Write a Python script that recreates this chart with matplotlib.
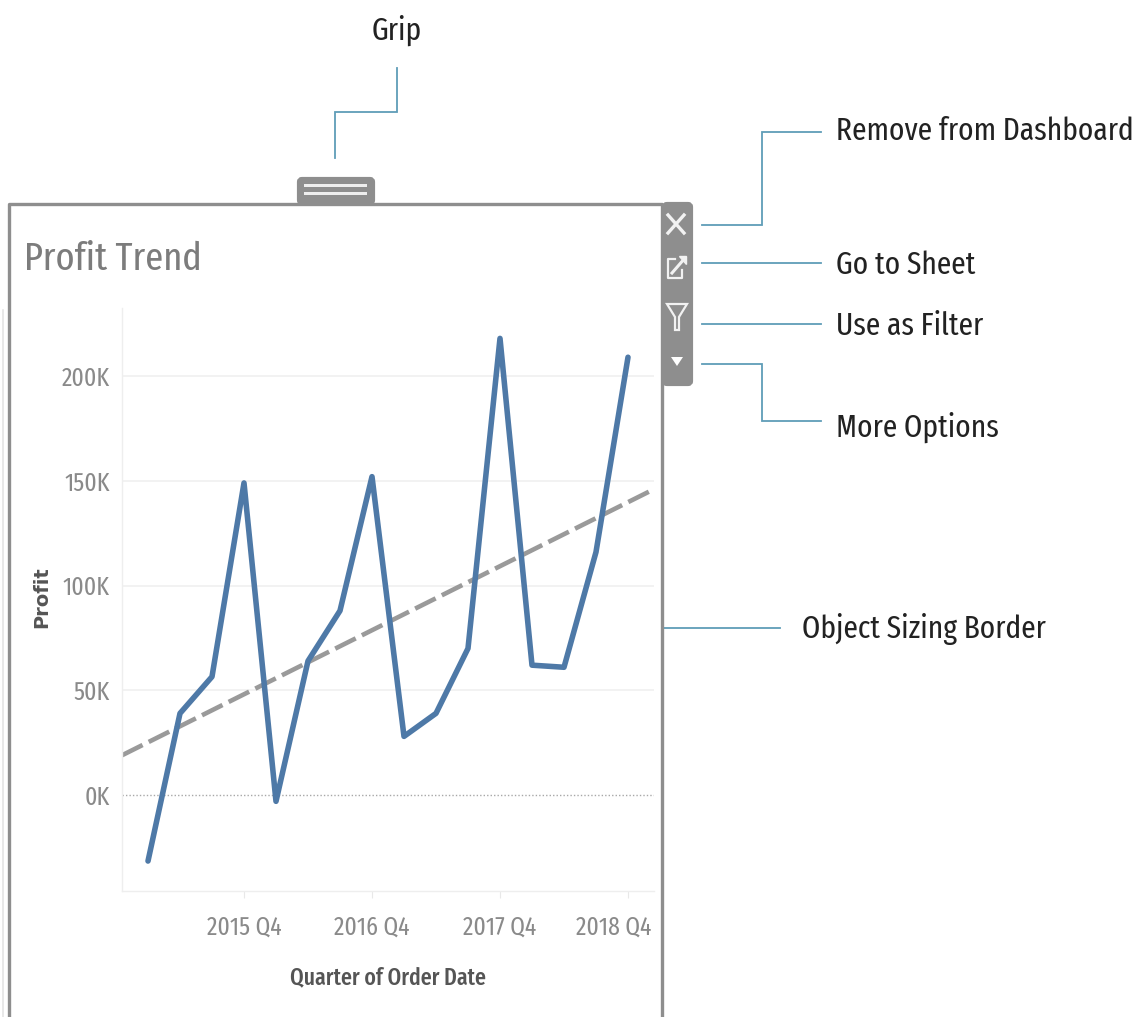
#!/usr/bin/env python3
"""Annotated dashboard object: profit trend line with callouts."""

import matplotlib
matplotlib.use("Agg")
import matplotlib.pyplot as plt
from matplotlib.patches import FancyBboxPatch, Polygon, Rectangle
from matplotlib.lines import Line2D
from matplotlib.transforms import ScaledTranslation
import numpy as np

W, H = 1139, 1017

QUARTERS = [f"{y} Q{q}" for y in (2015, 2016, 2017, 2018) for q in (1, 2, 3, 4)]
PROFIT = [-31.5, 39, 56.5, 149, -3, 64, 88, 152, 28, 39, 70, 218, 62, 61, 116, 209]
TREND_X = [-0.81, 15.81]
TREND_Y = [19, 146]
Y_TICKS = [0, 50, 100, 150, 200]
Y_LABELS = ["0K", "50K", "100K", "150K", "200K"]
X_TICKS = [3, 7, 11, 15]
X_LABELS = ["2015 Q4", "2016 Q4", "2017 Q4", "2018 Q4"]

CALLOUTS = [
    ("Grip", 397, 30, "center", [(335, 158), (335, 112), (397, 112), (397, 68)]),
    ("Remove from Dashboard", 836, 131, "left", [(702, 225), (762, 225), (762, 132), (821, 132)]),
    ("Go to Sheet", 836, 265, "left", [(702, 263), (821, 263)]),
    ("Use as Filter", 836, 326, "left", [(702, 324), (821, 324)]),
    ("More Options", 836, 427, "left", [(702, 364), (762, 364), (762, 421), (821, 421)]),
    ("Object Sizing Border", 802, 629, "left", [(663, 628), (780, 628)]),
]

FONT = ["Fira Sans Extra Condensed", "Lato", "DejaVu Sans"]
plt.rcParams["font.family"] = FONT

GREY = "#8e8e8e"
LEADER = "#5f9db8"
LINE = "#4e79a7"
TEXT = "#8a8a8a"

fig = plt.figure(figsize=(W / 100, H / 100), dpi=100, facecolor="white")

# overlay in pixel coordinates for the frame and the callouts
bg = fig.add_axes([0, 0, 1, 1], zorder=3)
bg.set_xlim(0, W)
bg.set_ylim(H, 0)
bg.axis("off")
bg.patch.set_alpha(0)

for label, tx, ty, ha, path in CALLOUTS:
    xs, ys = zip(*path)
    bg.plot(xs, ys, color=LEADER, lw=1.3, solid_joinstyle="miter")
    bg.text(tx, ty, label, ha=ha, va="center", fontsize=23, color="#222222")

# object border
bg.add_line(Line2D([9, 9, 662, 662], [1017, 204, 204, 1017], color=GREY, lw=2.4))
bg.add_line(Line2D([3, 3], [310, 1017], color="#e4e4e4", lw=1.2))

# grip
bg.add_patch(FancyBboxPatch((299, 179), 74, 24, boxstyle="round,pad=0,rounding_size=3",
                            fc=GREY, ec=GREY, lw=3))
bg.add_patch(Rectangle((304, 183.5), 63, 3, fc="#eeeeee", ec="none", zorder=4))
bg.add_patch(Rectangle((304, 192), 63, 3, fc="#eeeeee", ec="none", zorder=4))

# toolbar
bg.add_patch(FancyBboxPatch((664, 204), 27, 180, boxstyle="round,pad=0,rounding_size=3",
                            fc=GREY, ec=GREY, lw=3))
ICON = "#f2f2f2"
bg.plot([668, 684], [215, 233], color=ICON, lw=2.4, zorder=4)
bg.plot([668, 684], [233, 215], color=ICON, lw=2.4, zorder=4)
bg.plot([675, 668, 668, 682, 682], [259, 259, 278, 278, 270], color=ICON, lw=1.6, zorder=4)
bg.plot([672, 685], [273, 258], color=ICON, lw=2.2, zorder=4)
bg.add_patch(Polygon([[679, 256], [686, 256], [686, 264]], fc=ICON, ec=ICON, zorder=4))
bg.add_patch(Polygon([[667, 304], [687, 304], [679, 317], [679, 330], [675, 330], [675, 317]],
                     fc="none", ec=ICON, lw=1.6, zorder=4))
bg.add_patch(Polygon([[671, 357], [683, 357], [677, 366]], fc="white", ec="none", zorder=4))

bg.text(24, 259, "Profit Trend", ha="left", va="center", fontsize=28.5, color="#7c7c7c")

# chart
ax = fig.add_axes([122 / W, 1 - 891 / H, (654 - 122) / W, (891 - 308) / H], zorder=2)
ax.patch.set_alpha(0)
ax.set_xlim(-0.8125, 15.8125)
ax.set_ylim(-45.8, 232.5)
x = np.arange(len(QUARTERS))

for tick in Y_TICKS[1:]:
    ax.axhline(tick, color="#efefef", lw=1.1, zorder=1)
ax.axhline(0, color="#a8a8a8", lw=1.0, ls=(0, (1, 1.5)), zorder=1)

ax.plot(TREND_X, TREND_Y, color="#9a9a9a", lw=3.3, ls=(0, (5.0, 1.5)), zorder=2)
ax.plot(x, PROFIT, color=LINE, lw=4.0, solid_joinstyle="round", solid_capstyle="round", zorder=3)

for side in ("top", "right"):
    ax.spines[side].set_visible(False)
for side in ("left", "bottom"):
    ax.spines[side].set_color("#eeeeee")
    ax.spines[side].set_linewidth(1.0)

ax.set_yticks(Y_TICKS)
ax.set_yticklabels(Y_LABELS, fontsize=18.5, color=TEXT)
ax.set_xticks(X_TICKS)
ax.set_xticklabels(X_LABELS, fontsize=18.5, color=TEXT)
ax.tick_params(axis="y", length=0, pad=9)
ax.tick_params(axis="x", length=5, color="#e8e8e8", pad=12)

# last tick label is pushed left so that it stays inside the frame
last = ax.get_xticklabels()[-1]
last.set_transform(last.get_transform() + ScaledTranslation(-14 / 100, 0, fig.dpi_scale_trans))

bg.text(42, 597, "Profit", rotation=90, ha="center", va="center", fontsize=14,
        fontweight="bold", color="#555555", family=["DejaVu Sans"])
bg.text(388, 978, "Quarter of Order Date", ha="center", va="center", fontsize=17,
        fontweight="medium", color="#555555")

fig.savefig("out.png", dpi=100)
